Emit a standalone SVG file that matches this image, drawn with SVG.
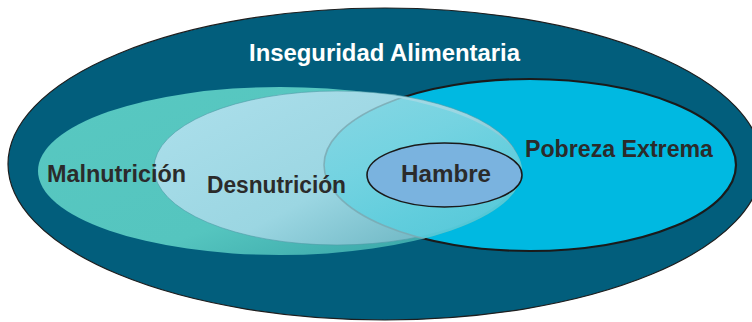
<svg xmlns="http://www.w3.org/2000/svg" width="752" height="322" viewBox="0 0 752 322">
  <style>
    .lbl { font-family: "Liberation Sans", Arial, sans-serif; font-weight: bold; font-size: 23px; fill: #2b2b2b; }
    .title { fill: #ffffff; }
  </style>
  <defs>
    <linearGradient id="gMal" x1="0" y1="0" x2="1" y2="1">
      <stop offset="0" stop-color="#58c8c1"/>
      <stop offset="0.6" stop-color="#55c5bf"/>
      <stop offset="1" stop-color="#2f9aa0"/>
    </linearGradient>
    <linearGradient id="gDes" x1="0" y1="0.2" x2="1" y2="1">
      <stop offset="0" stop-color="#aadeea"/>
      <stop offset="0.5" stop-color="#9bd6e2"/>
      <stop offset="1" stop-color="#5aa9b6"/>
    </linearGradient>
    <linearGradient id="gOv" x1="0" y1="0" x2="1" y2="1">
      <stop offset="0" stop-color="#86d7e3"/>
      <stop offset="0.5" stop-color="#5ccfdf"/>
      <stop offset="1" stop-color="#3fc4da"/>
    </linearGradient>
    <clipPath id="clipMD">
      <ellipse cx="280" cy="171" rx="242" ry="84"/>
    </clipPath>
  </defs>

  <g id="inseguridad">
    <ellipse cx="385" cy="164" rx="377" ry="156" fill="#025e7c" stroke="#1e1e1e" stroke-width="1.2"/>
  </g>

  <g id="pobreza">
    <ellipse cx="530" cy="165" rx="206" ry="86" fill="#00b9e1" stroke="#1a1a1a" stroke-width="2.2"/>
  </g>

  <g id="malnutricion">
    <ellipse cx="280" cy="171" rx="242" ry="84" fill="url(#gMal)"/>
  </g>

  <g id="desnutricion">
    <ellipse cx="337" cy="168" rx="183" ry="77" fill="url(#gDes)" stroke="#4f9ba6" stroke-width="0.6"/>
  </g>

  <g id="overlap" clip-path="url(#clipMD)">
    <ellipse cx="530" cy="165" rx="206" ry="86" fill="url(#gOv)" fill-opacity="0.85" stroke="#7aa7b0" stroke-width="1.6" stroke-opacity="0.8"/>
  </g>

  <g id="hambre">
    <ellipse cx="444.5" cy="175" rx="77.5" ry="32" fill="#7ab3df" stroke="#1a1a1a" stroke-width="1.6"/>
  </g>

  <g id="labels">
    <text class="lbl title" x="249" y="61" textLength="271" lengthAdjust="spacingAndGlyphs">Inseguridad Alimentaria</text>
    <text class="lbl" x="47" y="182" textLength="139" lengthAdjust="spacingAndGlyphs">Malnutrición</text>
    <text class="lbl" x="207" y="193" textLength="139" lengthAdjust="spacingAndGlyphs">Desnutrición</text>
    <text class="lbl" x="401" y="182" textLength="90" lengthAdjust="spacingAndGlyphs">Hambre</text>
    <text class="lbl" x="525" y="157" textLength="188" lengthAdjust="spacingAndGlyphs">Pobreza Extrema</text>
  </g>
</svg>
